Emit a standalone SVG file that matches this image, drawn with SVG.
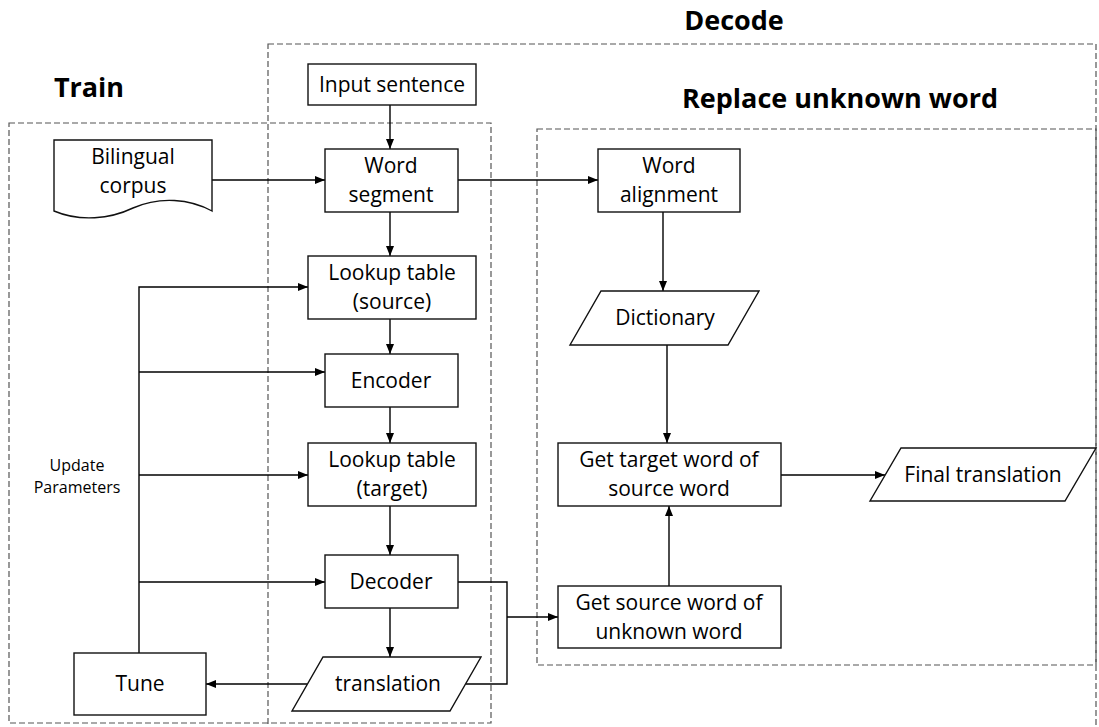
<svg xmlns="http://www.w3.org/2000/svg" width="1099" height="727" viewBox="0 0 1099 727">
<style>
.t{font-family:"Open Sans","Liberation Sans",sans-serif;font-size:21px;fill:#000;text-anchor:middle}
.h{font-family:"Open Sans","Liberation Sans",sans-serif;font-size:27px;font-weight:bold;fill:#000;text-anchor:middle}
.s{font-family:"Open Sans","Liberation Sans",sans-serif;font-size:16px;fill:#000;text-anchor:middle}
.n{fill:#fff;stroke:#111;stroke-width:1.4}
.g{fill:none;stroke:#555;stroke-width:1.2;stroke-dasharray:6,3}
.c{fill:none;stroke:#000;stroke-width:1.4}
</style>
<defs>
<marker id="a" viewBox="0 0 10 10" refX="10" refY="5" markerWidth="10" markerHeight="10" markerUnits="userSpaceOnUse" orient="auto">
<path d="M0,1 L10,5 L0,9 Z" fill="#000"/>
</marker>
</defs>
<rect width="1099" height="727" fill="#fff"/>
<g id="groups">
<rect class="g" x="268" y="44" width="828" height="700"/>
<rect class="g" x="9" y="123" width="482" height="600"/>
<rect class="g" x="537" y="129" width="559" height="536"/>
<text class="h" x="734" y="30">Decode</text>
<text class="h" x="89" y="97">Train</text>
<text class="h" x="840" y="108">Replace unknown word</text>
</g>
<g id="connectors">
<path class="c" d="M390,105 V149" marker-end="url(#a)"/>
<path class="c" d="M212,180 H325" marker-end="url(#a)"/>
<path class="c" d="M458,180 H598" marker-end="url(#a)"/>
<path class="c" d="M390,212 V256" marker-end="url(#a)"/>
<path class="c" d="M390,319 V354" marker-end="url(#a)"/>
<path class="c" d="M390,407 V443" marker-end="url(#a)"/>
<path class="c" d="M390,506 V555" marker-end="url(#a)"/>
<path class="c" d="M390,608 V657" marker-end="url(#a)"/>
<path class="c" d="M307,684 H206" marker-end="url(#a)"/>
<path class="c" d="M139,653 V287 H308" marker-end="url(#a)"/>
<path class="c" d="M139,372 H325" marker-end="url(#a)"/>
<path class="c" d="M139,475 H308" marker-end="url(#a)"/>
<path class="c" d="M139,582 H325" marker-end="url(#a)"/>
<path class="c" d="M458,582 H507 V684 H466"/>
<path class="c" d="M507,617 H558" marker-end="url(#a)"/>
<path class="c" d="M663,212 V291" marker-end="url(#a)"/>
<path class="c" d="M667,345 V443" marker-end="url(#a)"/>
<path class="c" d="M669,586 V506" marker-end="url(#a)"/>
<path class="c" d="M781,475 H885" marker-end="url(#a)"/>
</g>
<g id="input-sentence">
<rect class="n" x="308" y="64" width="168" height="41"/>
<text class="t" x="392" y="92">Input sentence</text>
</g>
<g id="bilingual-corpus">
<path class="n" d="M54,140 H212 V211 C190,199 160,196 133,208 C110,219 80,222 54,211 Z"/>
<text class="t" x="133" y="164">Bilingual</text>
<text class="t" x="133" y="193">corpus</text>
</g>
<g id="word-segment">
<rect class="n" x="325" y="149" width="133" height="63"/>
<text class="t" x="391" y="173">Word</text>
<text class="t" x="391" y="202">segment</text>
</g>
<g id="lookup-source">
<rect class="n" x="308" y="256" width="168" height="63"/>
<text class="t" x="392" y="280">Lookup table</text>
<text class="t" x="392" y="309">(source)</text>
</g>
<g id="encoder">
<rect class="n" x="325" y="354" width="133" height="53"/>
<text class="t" x="391" y="388">Encoder</text>
</g>
<g id="lookup-target">
<rect class="n" x="308" y="443" width="168" height="63"/>
<text class="t" x="392" y="467">Lookup table</text>
<text class="t" x="392" y="496">(target)</text>
</g>
<g id="decoder">
<rect class="n" x="325" y="555" width="133" height="53"/>
<text class="t" x="391" y="589">Decoder</text>
</g>
<g id="translation">
<path class="n" d="M323,657 H481 L450,711 H292 Z"/>
<text class="t" x="388" y="691">translation</text>
</g>
<g id="tune">
<rect class="n" x="74" y="653" width="132" height="62"/>
<text class="t" x="140" y="691">Tune</text>
</g>
<g id="update-parameters">
<text class="s" x="77" y="471">Update</text>
<text class="s" x="77" y="493">Parameters</text>
</g>
<g id="word-alignment">
<rect class="n" x="598" y="149" width="142" height="63"/>
<text class="t" x="669" y="173">Word</text>
<text class="t" x="669" y="202">alignment</text>
</g>
<g id="dictionary">
<path class="n" d="M601,291 H759 L728,345 H570 Z"/>
<text class="t" x="665" y="325">Dictionary</text>
</g>
<g id="get-target">
<rect class="n" x="558" y="443" width="223" height="63"/>
<text class="t" x="669" y="467">Get target word of</text>
<text class="t" x="669" y="496">source word</text>
</g>
<g id="get-source">
<rect class="n" x="558" y="586" width="223" height="62"/>
<text class="t" x="669" y="610">Get source word of</text>
<text class="t" x="669" y="639">unknown word</text>
</g>
<g id="final-translation">
<path class="n" d="M901,448 H1096 L1065,501 H870 Z"/>
<text class="t" x="983" y="482">Final translation</text>
</g>
</svg>
